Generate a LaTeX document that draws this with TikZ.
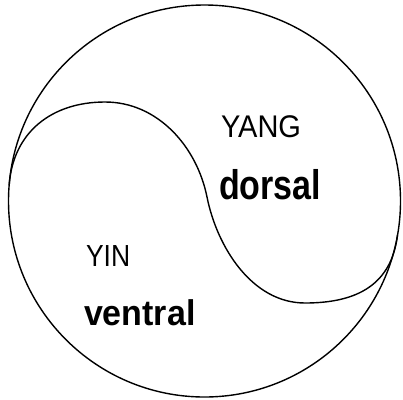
\documentclass[tikz,border=0pt]{standalone}
\usepackage{fontspec}
\setmainfont{Liberation Sans}
\begin{document}
\begin{tikzpicture}[x=1pt,y=-1pt,
  outline/.style={line width=1.4pt,black},
  lbl/.style={anchor=base west,inner sep=0pt,outer sep=0pt}]
\useasboundingbox (0,0) rectangle (403,399);
\node[outline,draw,circle,minimum size=392pt,inner sep=0pt] (outer) at (204.5,201) {};
\coordinate (l) at (9.2,185);
\coordinate (ltop) at (105,102);
\coordinate (mid) at (207,197);
\coordinate (rbot) at (305,303);
\coordinate (r) at (397.5,235);
\draw[outline] (l) .. controls (13,132) and (52,102) .. (ltop)
  .. controls (158,102) and (197,147) .. (mid)
  .. controls (217,247) and (252,303) .. (rbot)
  .. controls (358,303) and (391.5,284) .. (r);
\node[lbl] (yang) at (221,137) {\scalebox{1}[1.08]{\fontsize{29}{31}\selectfont YANG}};
\node[lbl] (dorsal) at (219,199) {\scalebox{1}[1.22]{\fontsize{34}{36}\selectfont\bfseries dorsal}};
\node[lbl] (yin) at (86,266) {\scalebox{1}[1.15]{\fontsize{26.5}{28}\selectfont YIN}};
\node[lbl] (ventral) at (84,325) {\scalebox{1}[1.05]{\fontsize{34}{36}\selectfont\bfseries ventral}};
\end{tikzpicture}
\end{document}
